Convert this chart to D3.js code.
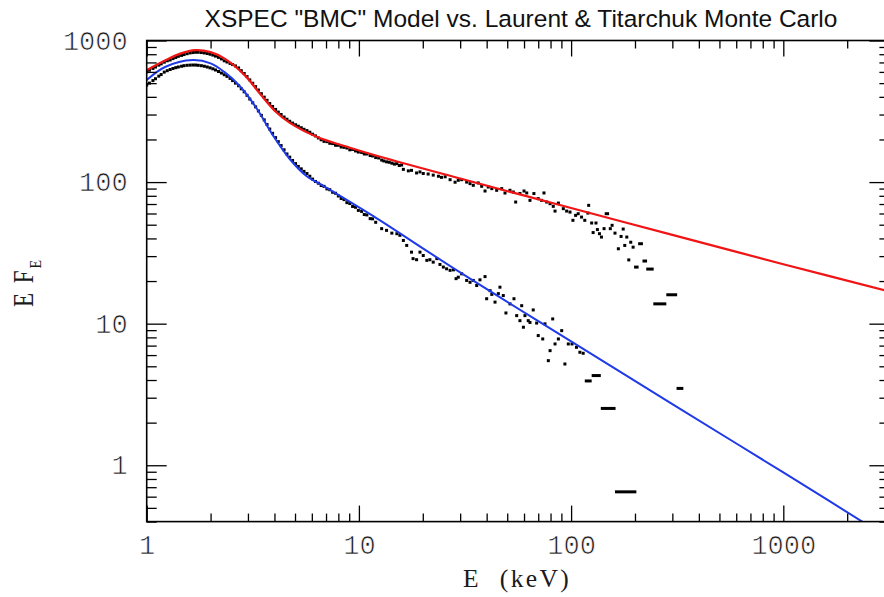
<!DOCTYPE html>
<html>
<head>
<meta charset="utf-8">
<script src="https://cdn.jsdelivr.net/npm/d3@7"></script>
<style>
  body { margin: 0; background: #fff; }
  svg { display: block; }
</style>
</head>
<body>
<svg id="chart" width="884" height="597"></svg>
<script>
// ---- Monte Carlo spectra, densely binned part (keV) ----
const lowEnergy = [1.00,1.03,1.07,1.10,1.14,1.17,1.21,1.25,1.29,1.33,
  1.37,1.41,1.46,1.50,1.55,1.60,1.65,1.70,1.75,1.81,
  1.87,1.93,1.99,2.05,2.11,2.18,2.25,2.32,2.39,2.47,
  2.54,2.62,2.71,2.79,2.88,2.97,3.06,3.16,3.26,3.36,
  3.47,3.58,3.69,3.80,3.92,4.05,4.17,4.30,4.44,4.58,
  4.72,4.87,5.03,5.18,5.35,5.51,5.69,5.87,6.05,6.24,
  6.44,6.64,6.85,7.07,7.29,7.52,7.76,8.00,8.25,8.51,
  8.78,9.06,9.34,9.64,9.94,10.3,10.6,10.9,11.3,11.6,12.0];

// harder spectrum (follows the red model)
const hardFluxLow = [601,617,635,650,670,684,703,719,729,745,
  759,773,785,796,807,817,822,826,826,822,
  817,809,800,789,776,760,741,719,705,689,
  676,661,640,612,585,556,527,499,472,447,
  421,398,378,359,342,326,312,300,288,278,
  269,261,254,248,242,236,231,225,218,212,
  205,199,194,193,188,187,182,182,177,176,
  174,169,170,166,163,162,158,158,154,153,149];

// softer spectrum (follows the blue model)
const softFluxLow = [484,500,521,537,560,575,598,612,624,634,
  643,650,658,664,668,670,671,671,668,664,
  658,650,641,631,619,604,589,573,558,540,
  521,500,479,456,434,410,386,363,340,318,
  296,275,255,237,221,206,193,181,169,158,
  150,142,135,129,124,119,115,110,105,101,
  98.2,94.6,93.3,89.5,88.3,84.7,83.4,79.8,76.6,75.2,
  71.6,70.6,67.3,66.4,63.1,62.1,59.0,58.6,55.2,55.0,52.0];

// ---- sparse high-energy points ----
const hardEnergy = [12.4,12.8,13.1,13.5,13.9,14.3,14.7,15.1,15.5,15.9,
  16.2,17.1,17.7,18.7,19.4,20.1,21.2,22.4,23.7,24.5,
  25.5,26.9,28.4,29.4,30.5,32.2,33.4,34.6,36.5,37.9,
  39.3,40.7,42.3,44.6,47.1,48.8,51.5,53.4,54.8,57.4,
  60.0,61.8,64.0,66.8,70.0,72.6,74.5,76.7,79.6,82.4,
  84.0,87.1,91.9,95.3,98.8,102,105,108,112,116,
  120,121,125,127,131,133,136,139,143,153,
  156,161,167,172,176,179,183,187,191,196];
const hardFlux = [148,143,141,139,138,136,134,135,131,132,
  123,120,121,116,118,115,114,112,110,108,
  109,104,99.8,103,104,100,97.5,94.9,98.6,93.4,
  86.5,92.3,89.9,87.5,89.9,83.7,87.5,85.1,72.3,83,
  86.5,83.8,74.3,83,76.4,74.3,83.8,72.3,70.4,67.4,
  62.4,71.1,64.9,62.4,61.4,53.7,58.2,59.8,56.6,53.7,
  60.4,68.5,51.4,44.0,51.4,46.2,43.2,40.9,46.9,46.9,
  49.5,43.6,33.8,41.3,46.6,35.7,40.9,28.2,37.6,34.7];

const softEnergy = [12.8,13.5,14.3,15.1,15.6,16.2,16.8,17.7,18.0,18.7,
  19.4,20.1,20.9,21.6,22.4,23.3,24.1,25.0,25.9,26.9,
  27.9,28.7,29.4,30.5,32.2,33.4,34.6,35.9,37.2,39.3,
  40.0,41.5,42.3,43.8,45.4,46.2,47.9,49.3,51.5,53.8,
  55.4,57.4,58.5,59.6,60.6,62.8,64.0,66.3,68.8,70.0,
  73.5,75.3,78.1,79.6,81.9,84.0,87.1,90.3,93.5,97.0,
  101,106,110,114];
const softFlux = [46.9,45.6,43.6,43.2,42.1,38.7,35.7,32.0,28.8,28.3,
  32.0,30.3,28.0,28.3,27.2,28.8,26.2,25.1,24.4,23.8,
  24.0,20.8,21.3,22.5,20.2,19.6,20.2,18.6,20.4,21.5,
  15.0,17.1,16.1,14.2,16.3,18.1,15.8,11.9,13.8,15.0,
  11.4,10.5,13.4,9.44,11.4,10.5,10.2,12.5,10.1,8.24,
  7.80,9.97,5.48,6.45,10.8,7.19,7.80,8.93,5.19,7.19,
  7.19,6.81,6.28,6.18];

// ---- wide bins at the highest energies (bin low edge, high edge, flux) ----
const hardBinLo  = [144,198,207,217,226,244,281];
const hardBinHi  = [151,208,218,228,245,281,316];
const hardBinFlux = [59.8,25.1,36.7,27.7,24.3,13.8,16.0];

const softBinLo  = [116,125,138,161,314];
const softBinHi  = [125,138,162,203,338];
const softBinFlux = [3.94,4.30,2.52,0.649,3.49];

// ---- XSPEC BMC model curves ----
const redModelE = [1,1.22,1.45,1.69,2.0,2.34,2.91,3.4,4.02,4.73,6.32,9.08,12.6,30,100,300,1000,3200];
const redModelF = [618,723,811,855,828,742,565,425,318,262,209,175,151,106,65.6,42.4,26.3,16.8];
const blueModelE = [1,1.22,1.65,2.0,2.32,2.75,3.3,3.95,4.73,5.68,6.8,8.15,11.7,30,100,300,1000,3200];
const blueModelF = [525,650,728,690,600,475,331,212,145,110,94,80,57.5,23.0,7.5,2.7,0.89,0.30];

// ---- axes ----
const xDomain = [1, 3162];
const yDomain = [0.4, 1000];
const xMajor = [1, 10, 100, 1000];
const yMajor = [1, 10, 100, 1000];
const titleText = 'XSPEC "BMC" Model vs. Laurent & Titarchuk Monte Carlo';
const xTitle = "E (keV)";

// ------------------------------------------------------------
const svg = d3.select("#chart");
const frameL = 146.7, frameR = 889.4, frameT = 40.5, frameB = 521.6;

const x = d3.scaleLog().domain(xDomain).range([frameL, frameR]);
const y = d3.scaleLog().domain(yDomain).range([frameB, frameT]);

svg.append("defs").append("clipPath").attr("id", "plotArea")
  .append("rect")
  .attr("x", frameL).attr("y", frameT)
  .attr("width", frameR - frameL).attr("height", frameB - frameT);

const plot = svg.append("g").attr("clip-path", "url(#plotArea)");

// data points
const pts = [];
d3.zip(lowEnergy, hardFluxLow).forEach(d => pts.push(d));
d3.zip(lowEnergy, softFluxLow).forEach(d => pts.push(d));
d3.zip(hardEnergy, hardFlux).forEach(d => pts.push(d));
d3.zip(softEnergy, softFlux).forEach(d => pts.push(d));

const dotW = 3, dotH = 3;
plot.append("g").selectAll("rect").data(pts).join("rect")
  .attr("x", d => x(d[0]) - dotW / 2)
  .attr("y", d => y(d[1]) - dotH / 2)
  .attr("width", dotW).attr("height", dotH)
  .attr("fill", "#000");

const bins = d3.zip(hardBinLo, hardBinHi, hardBinFlux)
  .concat(d3.zip(softBinLo, softBinHi, softBinFlux));
plot.append("g").selectAll("rect").data(bins).join("rect")
  .attr("x", d => x(d[0]))
  .attr("y", d => y(d[2]) - dotH / 2)
  .attr("width", d => x(d[1]) - x(d[0]))
  .attr("height", dotH)
  .attr("fill", "#000");

// model lines
const line = d3.line()
  .x(d => x(d[0])).y(d => y(d[1]))
  .curve(d3.curveCatmullRom.alpha(0.5));

plot.append("path")
  .datum(d3.zip(redModelE, redModelF))
  .attr("d", line)
  .attr("fill", "none").attr("stroke", "#f01414").attr("stroke-width", 2.2);

plot.append("path")
  .datum(d3.zip(blueModelE, blueModelF))
  .attr("d", line)
  .attr("fill", "none").attr("stroke", "#1f3ae8").attr("stroke-width", 2);

// axes with inward ticks on all four sides
const xMinor = x.ticks().filter(v => !xMajor.includes(v));
const yMinor = y.ticks().filter(v => !yMajor.includes(v));
const fmt = d3.format("d");
const tickFont = "'Liberation Mono', 'Courier New', monospace";
const labelFont = "'Liberation Serif', 'Times New Roman', serif";

function styleAxis(g) {
  g.select(".domain").remove();
  g.selectAll(".tick line").attr("stroke", "#000").attr("stroke-width", 1.3);
  g.selectAll(".tick text")
    .attr("fill", "#1a1a1a")
    .attr("stroke", "#fff").attr("stroke-width", 0.7)
    .style("font-family", tickFont)
    .style("font-size", "27px");
}

svg.append("g").attr("transform", `translate(0,${frameB})`)
  .call(d3.axisBottom(x).tickValues(xMajor).tickFormat(fmt)
    .tickSizeInner(-16).tickSizeOuter(0).tickPadding(13))
  .call(styleAxis);
svg.append("g").attr("transform", `translate(0,${frameB})`)
  .call(d3.axisBottom(x).tickValues(xMinor).tickFormat("")
    .tickSizeInner(-8).tickSizeOuter(0))
  .call(styleAxis);

svg.append("g").attr("transform", `translate(0,${frameT})`)
  .call(d3.axisTop(x).tickValues(xMajor).tickFormat("")
    .tickSizeInner(-16).tickSizeOuter(0))
  .call(styleAxis);
svg.append("g").attr("transform", `translate(0,${frameT})`)
  .call(d3.axisTop(x).tickValues(xMinor).tickFormat("")
    .tickSizeInner(-8).tickSizeOuter(0))
  .call(styleAxis);

svg.append("g").attr("transform", `translate(${frameL},0)`)
  .call(d3.axisLeft(y).tickValues(yMajor).tickFormat(fmt)
    .tickSizeInner(-20).tickSizeOuter(0).tickPadding(19))
  .call(styleAxis);
svg.append("g").attr("transform", `translate(${frameL},0)`)
  .call(d3.axisLeft(y).tickValues(yMinor).tickFormat("")
    .tickSizeInner(-10).tickSizeOuter(0))
  .call(styleAxis);

svg.append("g").attr("transform", `translate(${frameR},0)`)
  .call(d3.axisRight(y).tickValues(yMajor).tickFormat("")
    .tickSizeInner(-20).tickSizeOuter(0))
  .call(styleAxis);
svg.append("g").attr("transform", `translate(${frameR},0)`)
  .call(d3.axisRight(y).tickValues(yMinor).tickFormat("")
    .tickSizeInner(-10).tickSizeOuter(0))
  .call(styleAxis);

// frame
svg.append("rect")
  .attr("x", frameL).attr("y", frameT)
  .attr("width", frameR - frameL).attr("height", frameB - frameT)
  .attr("fill", "none").attr("stroke", "#000").attr("stroke-width", 1.6);

// title
svg.append("text")
  .attr("x", 521).attr("y", 27)
  .attr("text-anchor", "middle")
  .style("font-family", "'Liberation Sans', Arial, sans-serif")
  .style("font-size", "24.5px")
  .attr("fill", "#111")
  .text(titleText);

// x-axis title
svg.append("text")
  .attr("x", 463).attr("y", 587)
  .style("font-family", labelFont)
  .style("font-size", "25.5px")
  .style("letter-spacing", "2.4px")
  .style("word-spacing", "10px")
  .attr("fill", "#1a1a1a")
  .text(xTitle);

// y-axis title: E F_E, tall narrow lettering
const yt = svg.append("text")
  .attr("transform", "translate(33,307) rotate(-90) scale(1,1.25)")
  .style("font-family", labelFont)
  .style("font-size", "23px")
  .style("letter-spacing", "2px")
  .attr("fill", "#1a1a1a");
yt.append("tspan").text("E F");
yt.append("tspan").attr("dy", 6).style("font-size", "14px").text("E");
</script>
</body>
</html>
